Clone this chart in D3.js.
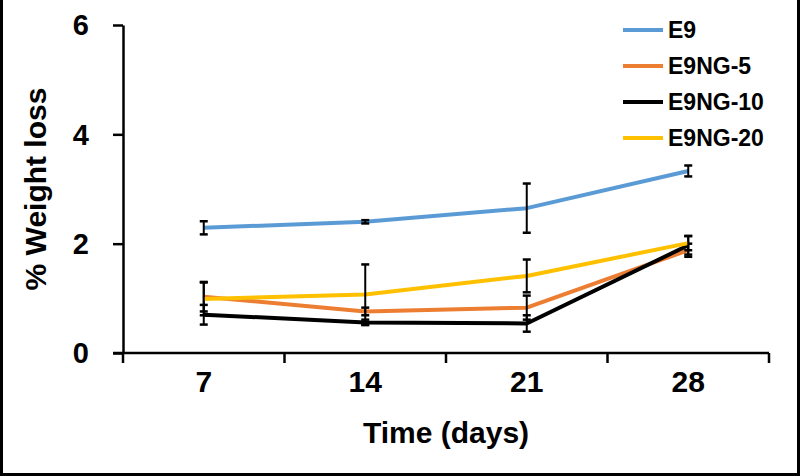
<!DOCTYPE html>
<html>
<head>
<meta charset="utf-8">
<script src="https://cdn.jsdelivr.net/npm/d3@7"></script>
<style>
  body { margin: 0; background: #fff; }
  svg { display: block; font-family: "Liberation Sans", Arial, sans-serif; }
</style>
</head>
<body>
<svg id="chart"></svg>
<script>
// data
var days = ["7", "14", "21", "28"];
var seriesNames = ["E9", "E9NG-5", "E9NG-10", "E9NG-20"];
var seriesColors = ["#5B9BD5", "#ED7D31", "#000000", "#FFC000"];
var e9 = [2.29, 2.40, 2.65, 3.33];
var e9ng5 = [1.03, 0.76, 0.83, 1.88];
var e9ng10 = [0.70, 0.56, 0.54, 1.97];
var e9ng20 = [0.99, 1.07, 1.41, 2.01];
var e9Err = [0.12, 0.03, 0.45, 0.10];
var e9ng5Err = [0.27, 0.07, 0.22, 0.12];
var e9ng10Err = [0.18, 0.05, 0.15, 0.17];
var e9ng20Err = [0.30, 0.55, 0.30, 0.13];
var yTicks = [0, 2, 4, 6];

var allValues = [e9, e9ng5, e9ng10, e9ng20];
var allErrors = [e9Err, e9ng5Err, e9ng10Err, e9ng20Err];

var W = 800, H = 476;
var svg = d3.select("#chart").attr("width", W).attr("height", H);

var x_scale = d3.scaleBand().domain(days).range([123, 769]).padding(0);
var y_scale = d3.scaleLinear().domain([0, 6]).range([353, 25]);

// frame
svg.append("path")
  .attr("d", `M1.5,0 V${H - 1.5} H${W - 1.5} V0`)
  .attr("fill", "none")
  .attr("stroke", "#000")
  .attr("stroke-width", 3);

// y axis
var yAxis = svg.append("g")
  .attr("transform", "translate(123,0)")
  .call(d3.axisLeft(y_scale).tickValues(yTicks).tickFormat(d3.format("d"))
    .tickSize(10).tickSizeOuter(0).tickPadding(24));
yAxis.select(".domain").attr("stroke-width", 2.5);
yAxis.selectAll(".tick line").attr("stroke-width", 2.5);
yAxis.selectAll(".tick text")
  .attr("font-size", 29).attr("font-weight", "bold")
  .attr("font-family", "Liberation Sans, Arial, sans-serif")
  .attr("fill", "#000").attr("dy", "0.34em");

// x axis: labels centred in bands, ticks on band edges
var xAxis = svg.append("g")
  .attr("transform", "translate(0,353)")
  .call(d3.axisBottom(x_scale).tickSize(0).tickSizeOuter(0).tickPadding(18));
xAxis.select(".domain").attr("d", "M113,0 H769").attr("stroke-width", 2.5);
xAxis.selectAll(".tick text")
  .attr("font-size", 30).attr("font-weight", "bold")
  .attr("font-family", "Liberation Sans, Arial, sans-serif")
  .attr("fill", "#000");

var edges = days.map(d => x_scale(d)).concat([x_scale(days[days.length - 1]) + x_scale.bandwidth()]);
xAxis.selectAll(".edge")
  .data(edges)
  .join("line")
  .attr("class", "edge")
  .attr("x1", d => d).attr("x2", d => d)
  .attr("y1", 0).attr("y2", 10)
  .attr("stroke", "#000").attr("stroke-width", 2.5);

// axis titles
svg.append("text")
  .attr("x", (x_scale.range()[0] + x_scale.range()[1]) / 2)
  .attr("y", 443)
  .attr("text-anchor", "middle")
  .attr("font-size", 30).attr("font-weight", "bold")
  .text("Time (days)");

svg.append("text")
  .attr("transform", "translate(46,189) rotate(-90)")
  .attr("text-anchor", "middle")
  .attr("font-size", 30).attr("font-weight", "bold")
  .text("% Weight loss");

// lines and error bars
var cx = d => x_scale(d) + x_scale.bandwidth() / 2;
var line = d3.line().x(d => cx(d.day)).y(d => y_scale(d.v));

allValues.forEach(function (vals, i) {
  var pts = days.map((d, j) => ({ day: d, v: vals[j], e: allErrors[i][j] }));
  var g = svg.append("g").attr("class", "series");
  g.append("path")
    .datum(pts)
    .attr("d", line)
    .attr("fill", "none")
    .attr("stroke", seriesColors[i])
    .attr("stroke-width", 4)
    .attr("stroke-linejoin", "round");

  var bars = g.selectAll(".err").data(pts).join("g").attr("class", "err");
  bars.append("line")
    .attr("x1", d => cx(d.day)).attr("x2", d => cx(d.day))
    .attr("y1", d => y_scale(d.v - d.e)).attr("y2", d => y_scale(d.v + d.e))
    .attr("stroke", "#000").attr("stroke-width", 2);
  [-1, 1].forEach(function (s) {
    bars.append("line")
      .attr("x1", d => cx(d.day) - 4).attr("x2", d => cx(d.day) + 4)
      .attr("y1", d => y_scale(d.v + s * d.e)).attr("y2", d => y_scale(d.v + s * d.e))
      .attr("stroke", "#000").attr("stroke-width", 2.5);
  });
});

// legend
var legend = svg.append("g").selectAll("g")
  .data(seriesNames)
  .join("g")
  .attr("transform", (d, i) => `translate(623,${30 + i * 36})`);
legend.append("line")
  .attr("x1", 0).attr("x2", 40)
  .attr("stroke", (d, i) => seriesColors[i])
  .attr("stroke-width", 4);
legend.append("text")
  .attr("x", 45).attr("dy", "0.36em")
  .attr("font-size", 23).attr("font-weight", "bold")
  .text(d => d);
</script>
</body>
</html>
